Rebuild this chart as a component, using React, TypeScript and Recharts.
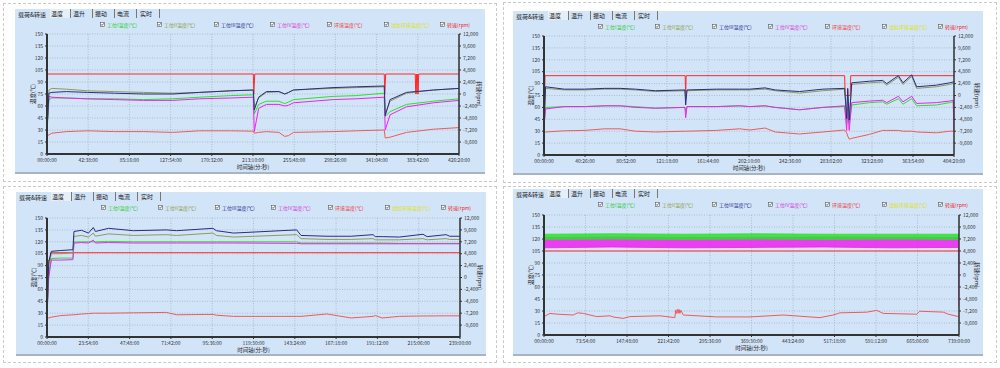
import { ComposedChart, Line, Area, XAxis, YAxis, CartesianGrid } from 'recharts';

const FONT = "'Noto Sans CJK SC', 'Noto Sans', sans-serif";

const TAB_FIRST = '载荷&转速';
const TABS = ['温度', '温升', '振动', '电流', '实时'];
const LEGEND = ['工位I温度(℃)', '工位II温度(℃)', '工位III温度(℃)', '工位IV温度(℃)', '环境温度(℃)', '试验环境温度(℃)', '转速(rpm)'];
const LEGEND_COLORS = ['#22cc22', '#8c9a3a', '#1f1f8f', '#d633d6', '#ee3333', '#e0e000', '#ee2222'];
const LINE_COLORS = { s1: '#2ee02e', s2: '#8f9c55', s3: '#2b2b86', s4: '#ee22ee', env: '#f05a5a', rpm: '#ff2a2a' };

const TEMP_TICKS = [0, 15, 30, 45, 60, 75, 90, 105, 120, 135, 150];
const RPM_TICKS = [-9600, -7200, -4800, -2400, 0, 2400, 4800, 7200, 9600, 12000];

// ---- panel 1 (top left)
const p1Ticks = ['00:00:00', '42:38:00', '85:16:00', '127:54:00', '170:32:00', '213:10:00', '255:48:00', '298:26:00', '341:04:00', '383:42:00', '426:20:00'];
const p1Time = [0, 2, 5, 20, 42, 70, 100, 130, 158, 190, 213.5, 214.5, 219, 227, 240, 246, 250, 255, 296, 320, 349, 350, 355, 372, 400, 426.3];
const p1S1 = [28, 68, 70, 70, 69, 69, 68, 69, 71, 73, 74, 50, 62, 66, 66, 63, 65, 68, 72, 73, 76, 47, 53, 62, 66, 69];
const p1S2 = [30, 80, 82, 81, 79, 78, 77, 76, 77, 79, 80, 58, 70, 77, 78, 75, 77, 80, 82, 83, 84, 50, 66, 76, 80, 82];
const p1S3 = [30, 76, 77, 78, 77, 76, 75, 75, 77, 79, 80, 55, 71, 78, 78, 75, 77, 80, 83, 84, 85, 48, 68, 77, 80, 82];
const p1S4 = [30, 72, 71, 70, 69, 68, 67, 67, 69, 70, 71, 28, 57, 62, 62, 60, 61, 64, 68, 69, 71, 30, 49, 59, 64, 67];
const p1Env = [22, 24, 26, 28, 29, 28, 28, 27, 29, 29, 28.5, 26, 27, 28, 27, 22, 23, 27, 28, 29, 30, 20, 21, 27, 31, 33];
const p1RpmTime = [0, 0.5, 213.5, 214, 215, 349, 349.5, 350.5, 381, 381.6, 382.2, 382.8, 383.4, 384, 384.6, 426.3];
const p1Rpm = [-8000, 4000, 4000, 0, 4000, 4000, 0, 4000, 4000, 0, 4000, 0, 4000, 0, 4000, 4000];

// ---- panel 2 (top right)
const p2Ticks = ['00:00:00', '40:26:00', '80:52:00', '121:18:00', '161:44:00', '202:10:00', '242:36:00', '283:02:00', '323:28:00', '363:54:00', '404:20:00'];
const p2Time = [0, 1.5, 20, 40, 60, 75, 90, 110, 139, 139.7, 141, 170, 193, 203, 218, 228, 252, 275, 296.5, 298.5, 299.5, 301, 303.5, 321, 334, 338, 349.5, 354, 362.6, 367.5, 387, 400, 403.5, 404.3];
const p2S1 = [35, 60, 61, 61, 62, 62, 61, 59, 60, 55, 61, 61, 62, 61, 62, 60, 57, 60, 61, 40, 58, 40, 63, 66, 67, 64, 71, 64, 71, 62, 63, 66, 67, 67];
const p2S2 = [36, 84, 82, 82, 83, 83, 82, 80, 81, 70, 81, 82, 82, 82, 83, 81, 78, 81, 83, 48, 82, 46, 89, 91, 92, 88, 98, 89, 99, 84, 86, 89, 90, 90];
const p2S3 = [36, 86, 83, 83, 84, 84, 83, 81, 82, 63, 82, 83, 83, 83, 84.6, 82, 80, 83, 84, 46, 84, 44, 91, 93, 94, 90, 100, 91, 101, 86, 88, 91, 92, 92];
const p2S4 = [36, 58, 61, 61, 62, 62, 60, 59, 60, 47, 61, 61, 62, 61, 62, 60, 57, 60, 62, 31, 60, 31, 66, 68, 69, 66, 74, 67, 74, 65, 66, 68, 69, 31];
const p2Env = [28, 29, 30.5, 31, 33, 33, 30, 29, 30, 30, 30, 31, 33, 31.5, 34, 29, 26.5, 29, 31.5, 28, 24, 20, 21, 26, 31, 31, 31, 30, 30, 29, 28, 30, 30, 30];
const p2RpmTime = [0, 1, 139.2, 139.7, 140.2, 296.5, 297, 302, 302.5, 404.3];
const p2Rpm = [-6500, 4000, 4000, 0, 4000, 4000, 0, 0, 4000, 4000];

// ---- panel 3 (bottom left)
const p3Ticks = ['00:00:00', '23:54:00', '47:48:00', '71:42:00', '95:36:00', '119:30:00', '143:24:00', '167:18:00', '191:12:00', '215:06:00', '239:00:00'];
const p3Time = [0, 1, 2.5, 8, 15, 15.6, 20, 24, 26.8, 28, 35.6, 50, 69, 75, 96, 98, 108, 144.5, 147, 162, 176, 188.7, 190, 194, 204, 217.6, 220, 231, 233, 239];
const p3S1 = [25, 80, 99, 99.5, 99.5, 119.7, 120, 120, 120, 120, 120.5, 120, 120, 120, 120, 120, 120, 120, 118.5, 118.5, 118.5, 118.5, 118.5, 118.5, 118, 118, 118, 118, 118, 118];
const p3S2 = [26, 90, 105, 105, 106, 126.8, 128, 126, 131, 127, 130, 128, 129, 128, 131, 128, 126, 129, 124, 123, 123, 124, 122.5, 122.5, 122.5, 124, 122.5, 124, 123, 123];
const p3S3 = [27, 95, 108, 109, 110, 133, 134.5, 131, 138, 133, 137, 134, 135, 134, 137, 134, 131, 135, 128, 127, 127, 129, 126.5, 126.5, 126, 129.5, 126.5, 129, 127, 127];
const p3S4 = [28, 75, 97, 97, 97.5, 118.4, 119, 118.5, 122, 118.5, 119, 118.5, 118.5, 118.5, 118.5, 118.5, 118.5, 118, 117.5, 117.5, 117.5, 117.5, 117.5, 117.5, 117.5, 117.5, 117.5, 117.5, 117.5, 117.5];
const p3Env = [24, 24, 25, 27, 28, 28, 29, 29.5, 30, 30, 30, 30.5, 31, 28, 28.5, 27.5, 26, 26, 26, 29, 24, 26, 27, 24, 26, 26.5, 26.5, 26.7, 26.7, 26.7];
const p3RpmTime = [0, 0.5, 1.8, 2.2, 239];
const p3Rpm = [-6000, 3400, 3400, 5000, 5000];

// ---- panel 4 (bottom right): station I / IV are dense noisy bands, kept as min/max ranges
const p4Ticks = ['00:00:00', '73:54:00', '147:48:00', '221:42:00', '295:36:00', '369:30:00', '443:24:00', '517:18:00', '591:12:00', '665:06:00', '739:00:00'];
const p4BandTime = [0, 1, 120, 250, 380, 500, 620, 738, 739];
const p4S1Low = [30, 119.5, 120, 119.5, 120, 119.5, 120, 119.5, 119.5];
const p4S1High = [32, 126, 126.5, 126, 126.5, 126, 126, 126, 126];
const p4S4Low = [30, 109, 110, 109, 109.5, 110, 109, 109.5, 35];
const p4S4High = [32, 122, 122.5, 122, 122, 122.5, 122, 122, 122];
const p4EnvTime = [0, 10.7, 24, 52, 60, 70, 93.8, 117.5, 123.5, 141, 153, 206.6, 233, 234.5, 236, 237.5, 239, 240.5, 242, 243.5, 248, 307.6, 367, 426, 491.5, 515, 527, 574.6, 592.5, 604, 663.6, 669, 710.8, 720, 738];
const p4Env = [23, 27, 26, 25, 27.7, 27, 23, 24, 22.5, 20.8, 23, 24, 21.7, 31, 27, 32, 27, 32, 27, 31, 25, 22.6, 22.6, 25, 21.7, 25, 27.7, 28.5, 30.8, 27, 26, 29.7, 28.6, 26, 23];
const p4RpmTime = [0, 0.8, 739];
const p4Rpm = [-8000, 4800, 4800];

const toMin = (s: string) => {
  const [m, sec] = s.split(':');
  return Number(m) + Number(sec) / 60;
};

const fmtRpm = (v: number) => v.toLocaleString('en-US');

const rows = (time: number[], vals: number[]) => time.map((t, i) => ({ t, v: vals[i] }));
const bandRows = (time: number[], lo: number[], hi: number[]) => time.map((t, i) => ({ t, v: [lo[i], hi[i]] }));

interface LineSpec { key: string; time: number[]; vals: number[]; axis: 'temp' | 'rpm' }
interface BandSpec { key: string; time: number[]; lo: number[]; hi: number[] }

interface PanelProps {
  left: number; top: number; w: number; h: number;
  plotL: number; plotR: number; plotT: number; plotB: number;
  ticks: string[];
  lines: LineSpec[];
  bands?: BandSpec[];
}

function CheckBox() {
  return (
    <svg width="5" height="5" viewBox="0 0 5 5" style={{ position: 'absolute', left: 0, top: 1 }}>
      <rect x="0.5" y="0.5" width="4" height="4" fill="#fff" stroke="#555" strokeWidth="0.6" />
      <path d="M1.2 2.4 L2.1 3.4 L3.8 1.3" fill="none" stroke="#222" strokeWidth="0.7" />
    </svg>
  );
}

const LEGEND_X = [85, 142, 199, 255, 312, 369, 425];
const TAB_X = [35, 57, 79, 101, 124];

function Panel({ left, top, w, h, plotL, plotR, plotT, plotB, ticks, lines, bands = [] }: PanelProps) {
  const xTicks = ticks.map(toMin);
  const xMax = xTicks[xTicks.length - 1];
  return (
    <div style={{ position: 'absolute', left, top, width: w, height: h, background: '#d2e4f8', borderBottom: '2px solid #a6b4c4', boxSizing: 'border-box' }}>
      {/* tab strip */}
      <div style={{ position: 'absolute', left: 3, top: 1, fontSize: 6, lineHeight: '9px', color: '#222' }}>{TAB_FIRST}</div>
      {TABS.map((t, i) => (
        <div key={t} style={{ position: 'absolute', left: TAB_X[i], top: 0, width: 21, height: 9, fontSize: 6, lineHeight: '10px', paddingLeft: 1, color: '#222', borderRight: '1px solid #777', background: i === 0 ? '#e6eef8' : 'transparent', boxSizing: 'border-box' }}>{t}</div>
      ))}
      {/* legend */}
      {LEGEND.map((l, i) => (
        <div key={l} style={{ position: 'absolute', left: LEGEND_X[i], top: 12, height: 7, width: 56, whiteSpace: 'nowrap' }}>
          <CheckBox />
          <span style={{ position: 'absolute', left: 7, top: 0, fontSize: 5, lineHeight: '7px', color: LEGEND_COLORS[i] }}>{l}</span>
        </div>
      ))}
      <div style={{ position: 'absolute', left: 0, top: 0 }}>
        <ComposedChart width={w} height={h} margin={{ top: plotT, left: 2, right: 1, bottom: h - plotB - 18 }} style={{ fontFamily: FONT }}>
          <CartesianGrid xAxisId="x" yAxisId="temp" stroke="#98a3ae" strokeDasharray="1 1.5" strokeWidth={0.6} fill="#d2e4f8" />
          <XAxis
            xAxisId="x" dataKey="t" type="number" domain={[0, xMax]} ticks={xTicks} interval={0}
            tickFormatter={(v: number) => ticks[xTicks.findIndex((x) => Math.abs(x - v) < 1e-6)] ?? ''}
            height={18} tickSize={2} tick={{ fontSize: 5, fill: '#333' }}
            axisLine={{ stroke: '#333', strokeWidth: 2 }} tickLine={{ stroke: '#333' }}
            label={{ value: '时间轴(分:秒)', position: 'insideBottom', offset: 3, style: { fontSize: 5.5, fill: '#222' } }}
            allowDataOverflow
          />
          <YAxis
            yAxisId="temp" domain={[0, 150]} ticks={TEMP_TICKS} interval={0} width={plotL - 2}
            tickSize={2} tick={{ fontSize: 5, fill: '#333' }}
            axisLine={{ stroke: '#333', strokeWidth: 2 }} tickLine={{ stroke: '#333' }}
            label={{ value: '温度(℃)', angle: -90, position: 'insideLeft', offset: 16, style: { fontSize: 5.5, fill: '#222', textAnchor: 'middle' } }}
            allowDataOverflow
          />
          <YAxis
            yAxisId="rpm" orientation="right" domain={[-12000, 12000]} ticks={RPM_TICKS} interval={0} width={w - plotR - 1}
            tickFormatter={fmtRpm} tickSize={2} tick={{ fontSize: 5, fill: '#333' }}
            axisLine={{ stroke: '#333', strokeWidth: 1.5 }} tickLine={{ stroke: '#333' }}
            label={{ value: '转速(rpm)', angle: 90, position: 'insideRight', offset: 5, style: { fontSize: 5.5, fill: '#222', textAnchor: 'middle' } }}
            allowDataOverflow
          />
          {lines.filter((l) => l.key === 'rpm').map((l) => (
            <Line
              key={l.key} xAxisId="x" yAxisId={l.axis} data={rows(l.time, l.vals)} dataKey="v" type="linear"
              stroke={LINE_COLORS.rpm} strokeWidth={1}
              dot={false} activeDot={false} isAnimationActive={false}
            />
          ))}
          {bands.map((b) => (
            <Area
              key={b.key} xAxisId="x" yAxisId="temp" data={bandRows(b.time, b.lo, b.hi)} dataKey="v" type="linear"
              stroke={LINE_COLORS[b.key as keyof typeof LINE_COLORS]} strokeWidth={0.8}
              fill={LINE_COLORS[b.key as keyof typeof LINE_COLORS]} fillOpacity={0.85}
              isAnimationActive={false} dot={false} activeDot={false}
            />
          ))}
          {lines.filter((l) => l.key !== 'rpm').map((l) => (
            <Line
              key={l.key} xAxisId="x" yAxisId={l.axis} data={rows(l.time, l.vals)} dataKey="v" type="linear"
              stroke={LINE_COLORS[l.key as keyof typeof LINE_COLORS]} strokeWidth={1}
              dot={false} activeDot={false} isAnimationActive={false}
            />
          ))}
        </ComposedChart>
      </div>
    </div>
  );
}

const cellStyle = (left: number, top: number, width: number, height: number) => ({
  position: 'absolute' as const, left, top, width, height, border: '1px dashed #c9c9c9', boxSizing: 'border-box' as const,
});

export default function App() {
  return (
    <div style={{ position: 'absolute', left: 0, top: 0, width: 1000, height: 368, background: '#fff', fontFamily: FONT, overflow: 'hidden' }}>
      <div style={cellStyle(3, 3, 494, 179)} />
      <div style={cellStyle(503, 2, 494, 181)} />
      <div style={cellStyle(3, 186, 494, 177)} />
      <div style={cellStyle(503, 186, 494, 177)} />

      <Panel
        left={15} top={9} w={470} h={165} plotL={32} plotR={444} plotT={25} plotB={145} ticks={p1Ticks}
        lines={[
          { key: 'env', time: p1Time, vals: p1Env, axis: 'temp' },
          { key: 'rpm', time: p1RpmTime, vals: p1Rpm, axis: 'rpm' },
          { key: 's1', time: p1Time, vals: p1S1, axis: 'temp' },
          { key: 's4', time: p1Time, vals: p1S4, axis: 'temp' },
          { key: 's2', time: p1Time, vals: p1S2, axis: 'temp' },
          { key: 's3', time: p1Time, vals: p1S3, axis: 'temp' },
        ]}
      />
      <Panel
        left={513} top={11} w={470} h={164} plotL={31} plotR={441} plotT={25} plotB={144} ticks={p2Ticks}
        lines={[
          { key: 'env', time: p2Time, vals: p2Env, axis: 'temp' },
          { key: 'rpm', time: p2RpmTime, vals: p2Rpm, axis: 'rpm' },
          { key: 's1', time: p2Time, vals: p2S1, axis: 'temp' },
          { key: 's4', time: p2Time, vals: p2S4, axis: 'temp' },
          { key: 's2', time: p2Time, vals: p2S2, axis: 'temp' },
          { key: 's3', time: p2Time, vals: p2S3, axis: 'temp' },
        ]}
      />
      <Panel
        left={16} top={192} w={470} h={164} plotL={31} plotR={444} plotT={26} plotB={145} ticks={p3Ticks}
        lines={[
          { key: 'env', time: p3Time, vals: p3Env, axis: 'temp' },
          { key: 'rpm', time: p3RpmTime, vals: p3Rpm, axis: 'rpm' },
          { key: 's1', time: p3Time, vals: p3S1, axis: 'temp' },
          { key: 's4', time: p3Time, vals: p3S4, axis: 'temp' },
          { key: 's2', time: p3Time, vals: p3S2, axis: 'temp' },
          { key: 's3', time: p3Time, vals: p3S3, axis: 'temp' },
        ]}
      />
      <Panel
        left={513} top={189} w={470} h={167} plotL={31} plotR={446} plotT={26} plotB={146} ticks={p4Ticks}
        bands={[
          { key: 's4', time: p4BandTime, lo: p4S4Low, hi: p4S4High },
          { key: 's1', time: p4BandTime, lo: p4S1Low, hi: p4S1High },
        ]}
        lines={[
          { key: 'rpm', time: p4RpmTime, vals: p4Rpm, axis: 'rpm' },
          { key: 'env', time: p4EnvTime, vals: p4Env, axis: 'temp' },
        ]}
      />
    </div>
  );
}
